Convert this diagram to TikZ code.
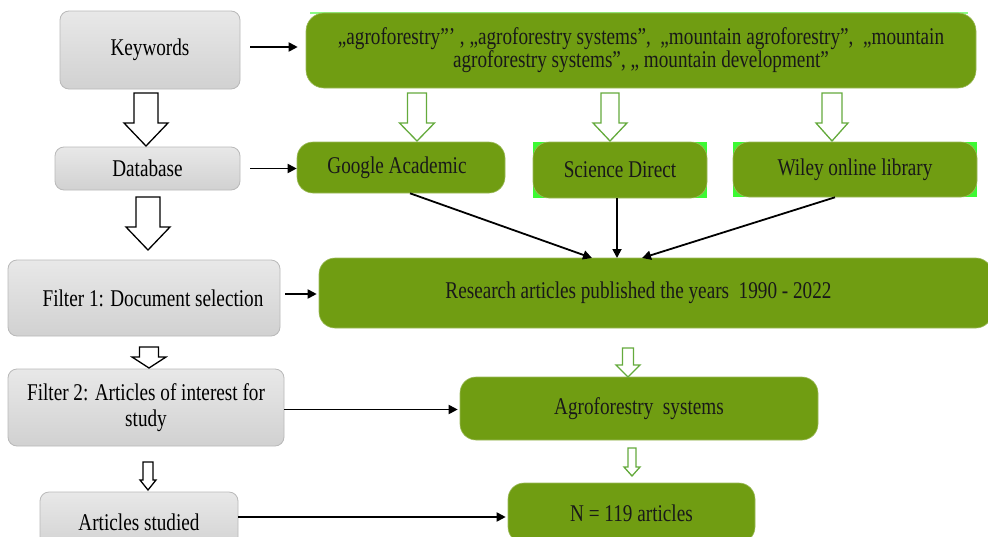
\documentclass[tikz,border=0pt]{standalone}
\usepackage{fontspec}
\setmainfont{Liberation Serif}[FakeStretch=0.8]
\usetikzlibrary{arrows.meta}
\definecolor{olive}{RGB}{112,157,18}
\definecolor{brightg}{RGB}{60,250,50}
\definecolor{grayedge}{RGB}{185,185,185}
\definecolor{hollowg}{RGB}{100,170,60}
\newcommand{\blockarrow}[7]{%
  \draw[line width=1.3pt, draw=#7, fill=white, line join=miter]
    (#1-#4,#2) -- (#1+#4,#2) -- (#1+#4,#3-#6) -- (#1+#5,#3-#6) -- (#1,#3)
    -- (#1-#5,#3-#6) -- (#1-#4,#3-#6) -- cycle;}
\tikzset{
  graybox/.style={draw=grayedge, line width=0.8pt, top color=gray!18, bottom color=gray!36,
    rounded corners=9pt, align=center, font=\fontsize{24}{26}\selectfont, inner sep=2pt},
  greenbox/.style={fill=olive, draw=olive!70!white, line width=0.6pt, rounded corners=16pt,
    align=center, font=\fontsize{24}{26}\selectfont, inner sep=2pt, text=black!90},
  conn/.style={line width=1.8pt, -{Triangle[length=9pt,width=9pt]}},
}
\begin{document}
\begin{tikzpicture}[x=1pt,y=-1pt]
\useasboundingbox (0,0) rectangle (988,536);
\fill[white] (0,0) rectangle (988,536);

% gray boxes
\node[graybox, minimum width=180pt, minimum height=78pt] (kw) at (150,50) {Keywords};
\node[graybox, minimum width=185pt, minimum height=43pt] (db) at (147.5,168.5) {Database};
\node[graybox, minimum width=272pt, minimum height=76pt] (f1) at (144,298) {\hspace*{18pt}Filter 1: Document selection};
\node[graybox, minimum width=276pt, minimum height=77pt] (f2) at (146,407.5) {Filter 2: Articles of interest for\\study};
\node[graybox, minimum width=198pt, minimum height=60pt] (st) at (139,522) {Articles studied};

% green boxes
\fill[brightg] (533,142) rectangle (707,198);
\fill[brightg] (733,142) rectangle (977,197);
\draw[brightg!60!white, line width=1.2pt] (310,13) -- (968,13);
\node[greenbox, minimum width=670pt, minimum height=75pt, rounded corners=18pt,
      font=\fontsize{24}{23}\selectfont] (kwg) at (641,50.5)
  {„agroforestry”’ , „agroforestry systems”,\ \ „mountain agroforestry”,\ \ „mountain\\agroforestry systems”, „ mountain development”};
\node[greenbox, minimum width=208pt, minimum height=51pt] (ga) at (401,167.5) {Google Academic\hspace*{8pt}};
\node[greenbox, minimum width=174pt, minimum height=56pt] (sd) at (620,170) {Science Direct};
\node[greenbox, minimum width=244pt, minimum height=55pt] (wl) at (855,169.5) {Wiley online library};
\node[greenbox, minimum width=673pt, minimum height=70pt] (rs) at (655.5,293) {Research articles published the years\ \ 1990 - 2022\hspace*{34pt}};
\node[greenbox, minimum width=358pt, minimum height=63pt] (ag) at (639,408.5) {Agroforestry\ \ systems};
\node[greenbox, minimum width=247pt, minimum height=60pt] (n) at (631.5,513) {N = 119 articles};

% horizontal connectors
\draw[conn] ([xshift=10pt,yshift=3pt]kw.east) -- ([xshift=-8pt,yshift=3pt]kw.east -| kwg.west);
\draw[conn] ([xshift=10pt]db.east) -- (db.east -| ga.west);
\draw[conn] ([xshift=5pt,yshift=4pt]f1.east) -- ([xshift=-2pt,yshift=4pt]f1.east -| rs.west);
\draw[conn] ([yshift=-2pt]f2.east) -- ([xshift=-2pt,yshift=-2pt]f2.east -| ag.west);
\draw[conn] ([yshift=5pt]st.east) -- ([xshift=-2pt,yshift=5pt]st.east -| n.west);

% converging connectors
\coordinate (r1) at (592,258);
\coordinate (r2) at (617,258);
\coordinate (r3) at (642,258);
\draw[conn] ([xshift=9pt]ga.south) -- (r1);
\draw[conn] ([xshift=-3pt]sd.south) -- (r2);
\draw[conn] ([xshift=-20pt]wl.south) -- (r3);

% hollow block arrows (black)
\blockarrow{146}{93}{146}{12}{22}{23}{black}
\blockarrow{148}{197}{250}{12}{22}{23}{black}
\blockarrow{149}{347}{368}{9.5}{17}{11}{black}
\blockarrow{148}{462}{490}{5}{8}{10}{black}

% hollow block arrows (green)
\blockarrow{417}{93}{141}{9.5}{17.5}{18}{hollowg}
\blockarrow{610}{93}{141}{9}{17}{18}{hollowg}
\blockarrow{832}{93}{141}{10}{16}{18}{hollowg}
\blockarrow{628}{348}{377}{5.5}{12}{12}{hollowg}
\blockarrow{632}{448}{476}{4}{8}{9}{hollowg}
\end{tikzpicture}
\end{document}
